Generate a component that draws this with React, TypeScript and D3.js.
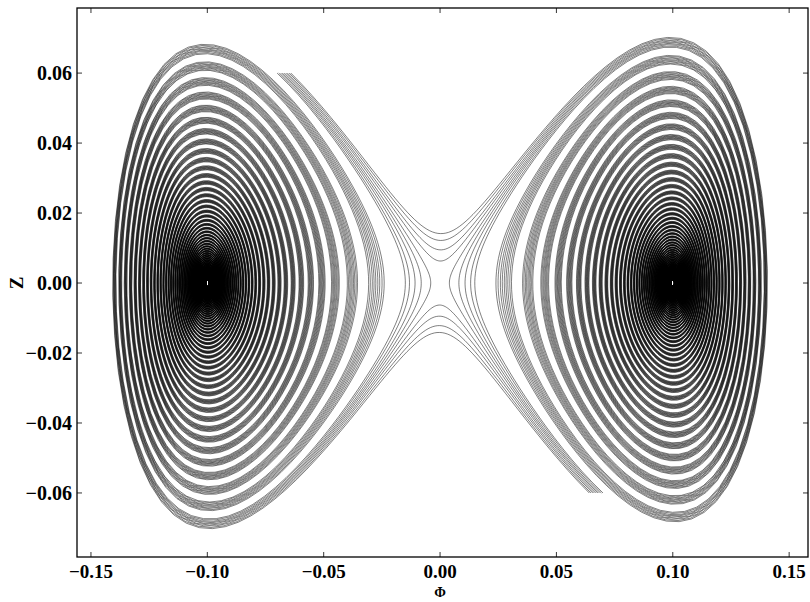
import React, { useMemo } from "react";
import * as d3 from "d3";

// Phase portrait of a damped double-well oscillator:
//   dΦ/dt = Z,  dZ/dt = wellA·Φ − wellB·Φ³ − damping·Z
const wellA = 1;
const wellB = 100;
const damping = 0.03;
const tEnd = 300;

// Initial conditions (the two dark starting bands)
const startLeftZ = 0.06;
const startLeftPhi = [-0.07, -0.0693, -0.0685, -0.0678, -0.0671, -0.0663, -0.0656, -0.0648, -0.0641];
const startRightZ = -0.06;
const startRightPhi = [0.07, 0.0693, 0.0685, 0.0678, 0.0671, 0.0663, 0.0656, 0.0648, 0.0641];

const xTicks = [-0.15, -0.1, -0.05, 0.0, 0.05, 0.1, 0.15];
const yTicks = [-0.06, -0.04, -0.02, 0.0, 0.02, 0.04, 0.06];
const xDomain = [-0.156, 0.1581];
const yDomain = [-0.0783, 0.0786];

const W = 810, H = 602;
const M = { left: 77, right: 2, top: 8, bottom: 45 };

function integrate(phi0: number, z0: number): [number, number][] {
  const dt = 0.01;
  const every = 8;
  const f = (p: number, z: number): [number, number] => [z, wellA * p - wellB * p * p * p - damping * z];
  let p = phi0, z = z0;
  const out: [number, number][] = [[p, z]];
  const n = Math.round(tEnd / dt);
  for (let i = 1; i <= n; i++) {
    const k1 = f(p, z);
    const k2 = f(p + 0.5 * dt * k1[0], z + 0.5 * dt * k1[1]);
    const k3 = f(p + 0.5 * dt * k2[0], z + 0.5 * dt * k2[1]);
    const k4 = f(p + dt * k3[0], z + dt * k3[1]);
    p += (dt / 6) * (k1[0] + 2 * k2[0] + 2 * k3[0] + k4[0]);
    z += (dt / 6) * (k1[1] + 2 * k2[1] + 2 * k3[1] + k4[1]);
    if (i % every === 0) out.push([p, z]);
  }
  return out;
}

const fmt = (v: number) => d3.format(".2f")(v).replace("-", "\u2212");

export default function App() {
  const x = d3.scaleLinear().domain(xDomain).range([M.left, W - M.right]);
  const y = d3.scaleLinear().domain(yDomain).range([H - M.bottom, M.top]);

  const paths = useMemo(() => {
    const line = d3
      .line<[number, number]>()
      .x((d) => x(d[0]))
      .y((d) => y(d[1]));
    const res: string[] = [];
    startLeftPhi.forEach((p) => res.push(line(integrate(p, startLeftZ)) || ""));
    startRightPhi.forEach((p) => res.push(line(integrate(p, startRightZ)) || ""));
    return res;
  }, []);

  const x0 = M.left, x1 = W - M.right, y0 = M.top, y1 = H - M.bottom;
  const font = "'Liberation Serif', 'Times New Roman', serif";

  return (
    <svg width={W} height={H} style={{ position: "absolute", left: 0, top: 0, background: "#fff" }}>
      <defs>
        <clipPath id="plot">
          <rect x={x0} y={y0} width={x1 - x0} height={y1 - y0} />
        </clipPath>
      </defs>
      <rect x={0} y={0} width={W} height={H} fill="#fff" />
      <g clipPath="url(#plot)">
        {paths.map((d, i) => (
          <path key={i} d={d} fill="none" stroke="#000" strokeWidth={0.5} strokeLinejoin="round" />
        ))}
      </g>
      <rect x={x0} y={y0} width={x1 - x0} height={y1 - y0} fill="none" stroke="#000" strokeWidth={1.3} />
      {xTicks.map((t) => (
        <g key={"x" + t}>
          <line x1={x(t)} x2={x(t)} y1={y1} y2={y1 - 5} stroke="#000" strokeWidth={0.8} />
          <line x1={x(t)} x2={x(t)} y1={y0} y2={y0 + 5} stroke="#000" strokeWidth={0.8} />
          <text x={x(t)} y={y1 + 21} textAnchor="middle" fontFamily={font} fontWeight="bold" fontSize={19}>
            {fmt(t)}
          </text>
        </g>
      ))}
      {yTicks.map((t) => (
        <g key={"y" + t}>
          <line x1={x0} x2={x0 + 5} y1={y(t)} y2={y(t)} stroke="#000" strokeWidth={0.8} />
          <line x1={x1} x2={x1 - 5} y1={y(t)} y2={y(t)} stroke="#000" strokeWidth={0.8} />
          <text x={x0 - 5} y={y(t) + 7} textAnchor="end" fontFamily={font} fontWeight="bold" fontSize={20}>
            {fmt(t)}
          </text>
        </g>
      ))}
      <text
        x={0}
        y={0}
        transform={`translate(16, ${y(0)}) rotate(-90)`}
        textAnchor="middle"
        dominantBaseline="central"
        fontFamily={font}
        fontWeight="bold"
        fontSize={19}
      >
        Z
      </text>
      <text x={x(0)} y={H - 5} textAnchor="middle" fontFamily={font} fontWeight="bold" fontSize={14}>
        Φ
      </text>
    </svg>
  );
}
